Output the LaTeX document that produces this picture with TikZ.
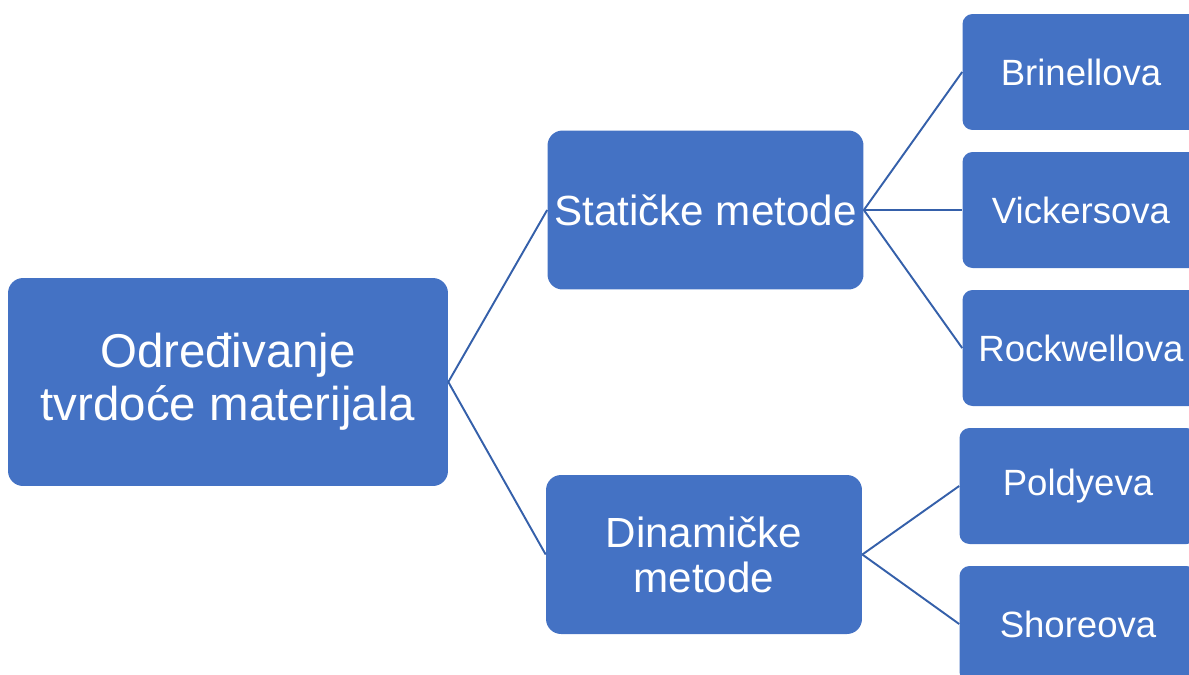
\documentclass[tikz,border=0pt]{standalone}
\usepackage{fontspec}
\setmainfont{Liberation Sans}
\definecolor{boxblue}{HTML}{4472C4}
\definecolor{lineblue}{HTML}{3560AA}
\tikzstyle{box} = [rectangle, rounded corners=0.3cm, inner sep=0, text centered, align=center, text=white, fill=boxblue]
\tikzstyle{root} = [box, minimum width=8.8cm, minimum height=4.16cm, font=\fontsize{27}{30}\selectfont]
\tikzstyle{method} = [box, minimum width=6.32cm, minimum height=3.18cm, font=\fontsize{24}{25.5}\selectfont]
\tikzstyle{test} = [box, rounded corners=0.2cm, minimum width=4.74cm, minimum height=2.32cm, font=\fontsize{20.8}{24}\selectfont]
\tikzstyle{link} = [draw=lineblue, line width=1.1pt]

\begin{document}
\begin{tikzpicture}[x=0.02cm,y=-0.02cm]
\useasboundingbox (0,0) rectangle (1189,674);
\clip (0,0) rectangle (1189,674);
\node[root] (odr) at (228,382) {Određivanje\\tvrdoće materijala};
\node[method] (stat) at (705.5,210) {Statičke metode};
\node[method] (din) at (704,554.5) {Dinamičke\\metode};
\node[test] (bri) at (1081,72) {Brinellova};
\node[test] (vic) at (1081,210) {Vickersova};
\node[test] (roc) at (1081,348) {Rockwellova};
\node[test] (pol) at (1078,486) {Poldyeva};
\node[test] (sho) at (1078,624) {Shoreova};
\draw[link] (odr.east)--(stat.west);
\draw[link] (odr.east)--(din.west);
\draw[link] (stat.east)--(bri.west);
\draw[link] (stat.east)--(vic.west);
\draw[link] (stat.east)--(roc.west);
\draw[link] (din.east)--(pol.west);
\draw[link] (din.east)--(sho.west);
\end{tikzpicture}
\end{document}
